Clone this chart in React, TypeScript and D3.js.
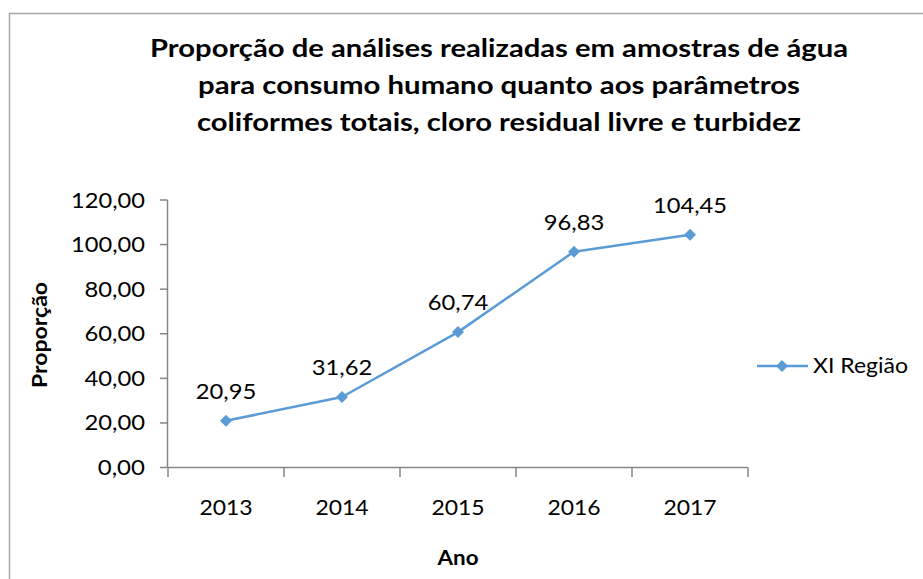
import React from "react";
import * as d3 from "d3";

const years = ["2013", "2014", "2015", "2016", "2017"];
const values = [20.95, 31.62, 60.74, 96.83, 104.45];
const yTicks = [0, 20, 40, 60, 80, 100, 120];
const titleLines = [
  "Proporção de análises realizadas em amostras de água",
  "para consumo humano quanto aos parâmetros",
  "coliformes totais, cloro residual livre e turbidez",
];
const seriesName = "XI Região";

const W = 923;
const H = 579;
const FONT = "Lato, 'Open Sans', sans-serif";
const BLUE = "#5B9BD5";
const AXIS = "#868686";

const fmt = (v: number) => v.toFixed(2).replace(".", ",");
// approximate width of numeric labels in the reference's font
const numWidth = (s: string) =>
  s.split("").reduce((a, c) => a + (c === "," ? 7.4 : 13.3), 0);

export default function App() {
  const x = d3.scaleBand<string>().domain(years).range([168, 748]);
  const y = d3.scaleLinear().domain([0, 120]).range([467.5, 200]);
  const cx = (d: string) => (x(d) as number) + x.bandwidth() / 2;
  const line = d3
    .line<number>()
    .x((_, i) => cx(years[i]))
    .y((v) => y(v));
  const diamond = (px: number, py: number, r = 6) =>
    `M${px},${py - r}L${px + r},${py}L${px},${py + r}L${px - r},${py}Z`;
  const titleY = [57, 94, 131];
  const titleW = [698, 602, 604];
  const boundaries = [...years.map((d) => x(d) as number), 748];

  return (
    <svg
      width={W}
      height={H}
      style={{ position: "absolute", left: 0, top: 0, background: "#fff" }}
      fontFamily={FONT}
    >
      <rect x={0} y={0} width={W} height={H} fill="#fff" />
      <rect x={9.5} y={13.5} width={W + 20} height={H + 20} fill="none" stroke="#A6A6A6" strokeWidth={1.5} />
      {titleLines.map((t, i) => (
        <text
          key={i}
          x={499}
          y={titleY[i]}
          textAnchor="middle"
          fontSize={24}
          fontWeight="bold"
          fill="#000"
          textLength={titleW[i]}
          lengthAdjust="spacingAndGlyphs"
        >
          {t}
        </text>
      ))}
      {/* y axis */}
      <line x1={167.5} x2={167.5} y1={200} y2={467.5} stroke={AXIS} strokeWidth={1.5} />
      {yTicks.map((t) => (
        <g key={t}>
          <line x1={160} x2={167.5} y1={y(t)} y2={y(t)} stroke={AXIS} strokeWidth={1.5} />
          <text
            x={145}
            y={y(t) + 7.5}
            textAnchor="end"
            fontSize={21}
            fill="#000"
            textLength={numWidth(fmt(t))}
            lengthAdjust="spacingAndGlyphs"
          >
            {fmt(t)}
          </text>
        </g>
      ))}
      {/* x axis */}
      <line x1={167.5} x2={748} y1={467.5} y2={467.5} stroke={AXIS} strokeWidth={1.5} />
      {boundaries.map((b, i) => (
        <line key={i} x1={b} x2={b} y1={467.5} y2={477} stroke={AXIS} strokeWidth={1.5} />
      ))}
      {years.map((d) => (
        <text
          key={d}
          x={cx(d)}
          y={515}
          textAnchor="middle"
          fontSize={21}
          fill="#000"
          textLength={numWidth(d)}
          lengthAdjust="spacingAndGlyphs"
        >
          {d}
        </text>
      ))}
      <text
        x={458}
        y={565}
        textAnchor="middle"
        fontSize={21}
        fontWeight="bold"
        fill="#000"
        textLength={41}
        lengthAdjust="spacingAndGlyphs"
      >
        Ano
      </text>
      <text
        transform={`translate(47,335) rotate(-90)`}
        textAnchor="middle"
        fontSize={21}
        fontWeight="bold"
        fill="#000"
        textLength={106}
        lengthAdjust="spacingAndGlyphs"
      >
        Proporção
      </text>
      {/* series */}
      <path d={line(values) as string} fill="none" stroke={BLUE} strokeWidth={2.5} strokeLinejoin="round" />
      {values.map((v, i) => (
        <g key={i}>
          <path d={diamond(cx(years[i]), y(v))} fill={BLUE} />
          <text
            x={cx(years[i])}
            y={y(v) - 22}
            textAnchor="middle"
            fontSize={21}
            fill="#000"
            textLength={numWidth(fmt(v))}
            lengthAdjust="spacingAndGlyphs"
          >
            {fmt(v)}
          </text>
        </g>
      ))}
      {/* legend */}
      <line x1={757} x2={808} y1={366} y2={366} stroke={BLUE} strokeWidth={2.5} />
      <path d={diamond(782, 366)} fill={BLUE} />
      <text x={813} y={373} fontSize={21} fill="#000" textLength={95} lengthAdjust="spacingAndGlyphs">
        {seriesName}
      </text>
    </svg>
  );
}
